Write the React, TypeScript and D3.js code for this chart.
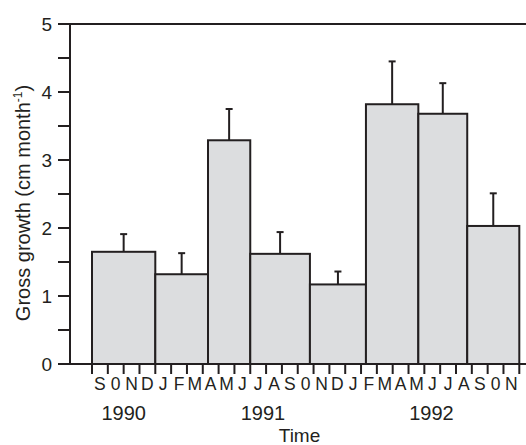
import React from "react";
import * as d3 from "d3";

// Sampling periods, in months counted from 1 Sep 1990
const periodStart = [0, 4, 7.33, 10, 13.77, 17.31, 20.62, 23.71];
const periodEnd = [4, 7.33, 10, 13.77, 17.31, 20.62, 23.71, 27];
const growth = [1.65, 1.32, 3.29, 1.62, 1.17, 3.82, 3.68, 2.03];
const growthSE = [0.26, 0.31, 0.46, 0.32, 0.19, 0.63, 0.45, 0.48];

const monthLabels = [
  "S", "0", "N", "D",
  "J", "F", "M", "A", "M", "J", "J", "A", "S", "0", "N", "D",
  "J", "F", "M", "A", "M", "J", "J", "A", "S", "0", "N",
];
const yearLabels = ["1990", "1991", "1992"];
const yearPos = [2, 10.8, 21.45];
const yTicks = [0, 1, 2, 3, 4, 5];
const yMinorTicks = [0.5, 1.5, 2.5, 3.5, 4.5];

const W = 526;
const H = 445;
const FONT = "'Liberation Sans', Arial, Helvetica, sans-serif";
const INK = "#231f20";
const FILL = "#dcdddf";

export default function App() {
  const x = d3.scaleLinear().domain([0, 27]).range([92, 519.3]);
  const y = d3.scaleLinear().domain([0, 5]).range([364, 24]);
  const axisLeft = 70;
  const bars = growth.map((v, i) => ({
    x0: x(periodStart[i]),
    x1: x(periodEnd[i]),
    v,
    e: v + growthSE[i],
  }));
  const monthTicks = d3.range(0, monthLabels.length + 1);

  return (
    <svg
      width={W}
      height={H}
      style={{ position: "absolute", left: 0, top: 0, background: "#fff" }}
      fontFamily={FONT}
    >
      {/* bars */}
      {bars.map((b, i) => (
        <g key={i}>
          <line
            x1={(b.x0 + b.x1) / 2}
            x2={(b.x0 + b.x1) / 2}
            y1={y(b.v)}
            y2={y(b.e)}
            stroke={INK}
            strokeWidth={2}
          />
          <line
            x1={(b.x0 + b.x1) / 2 - 3.5}
            x2={(b.x0 + b.x1) / 2 + 3.5}
            y1={y(b.e)}
            y2={y(b.e)}
            stroke={INK}
            strokeWidth={2}
          />
          <rect
            x={b.x0}
            y={y(b.v)}
            width={b.x1 - b.x0}
            height={y(0) - y(b.v)}
            fill={FILL}
            stroke={INK}
            strokeWidth={2}
          />
        </g>
      ))}

      {/* left axis */}
      <line x1={axisLeft} x2={axisLeft} y1={y(0)} y2={y(5)} stroke={INK} strokeWidth={2} />
      {yTicks.concat(yMinorTicks).map((t) => (
        <line key={"yt" + t} x1={58} x2={axisLeft} y1={y(t)} y2={y(t)} stroke={INK} strokeWidth={2} />
      ))}
      {yTicks.map((t) => (
        <text
          key={"yl" + t}
          x={52}
          y={y(t)}
          dy="0.36em"
          textAnchor="end"
          fontSize={19}
          fill={INK}
        >
          {t}
        </text>
      ))}
      {/* top line */}
      <line x1={58} x2={W} y1={y(5)} y2={y(5)} stroke={INK} strokeWidth={2} />
      {/* bottom axis */}
      <line x1={58} x2={W} y1={y(0)} y2={y(0)} stroke={INK} strokeWidth={2} />
      {monthTicks.map((m) => (
        <line key={"mt" + m} x1={x(m)} x2={x(m)} y1={y(0)} y2={y(0) + 10} stroke={INK} strokeWidth={2} />
      ))}
      {monthLabels.map((l, i) => (
        <text key={"ml" + i} x={x(i + 0.5)} y={390} textAnchor="middle" fontSize={17.5} fill={INK}>
          {l}
        </text>
      ))}
      {yearLabels.map((l, i) => (
        <text key={"yr" + i} x={x(yearPos[i])} y={420} textAnchor="middle" fontSize={20} fill={INK}>
          {l}
        </text>
      ))}
      <text x={299.5} y={442} textAnchor="middle" fontSize={19} fill={INK}>
        Time
      </text>
      <text
        transform={`translate(30,203) rotate(-90)`}
        textAnchor="middle"
        fontSize={20}
        fill={INK}
      >
        Gross growth (cm month
        <tspan fontSize={12} dy={-8}>-1</tspan>
        <tspan dy={8}>)</tspan>
      </text>
    </svg>
  );
}
